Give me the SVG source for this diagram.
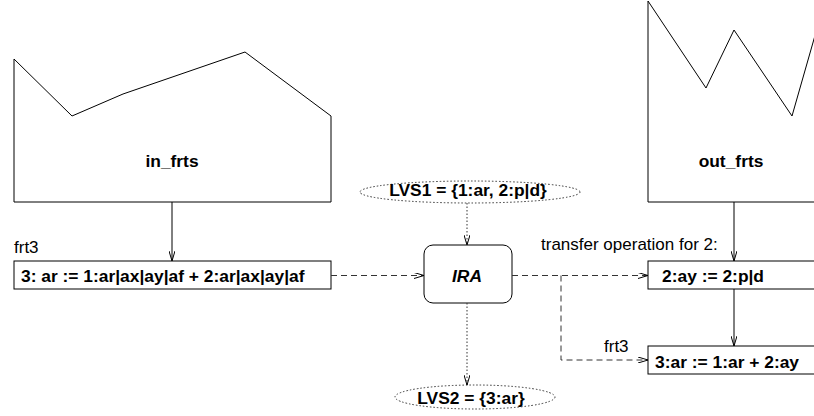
<svg xmlns="http://www.w3.org/2000/svg" width="814" height="416" viewBox="0 0 814 416">
<style>
.shape{fill:#fff;stroke:#000;stroke-width:1}
.line{fill:none;stroke:#000;stroke-width:1}
.dash{fill:none;stroke:#333;stroke-width:1;stroke-dasharray:6 4}
.dot{fill:none;stroke:#333;stroke-width:1;stroke-dasharray:1.5 2}
.b{font-family:"Liberation Sans",Arial,sans-serif;font-size:17.4px;font-weight:bold;fill:#000}
.n{font-family:"Liberation Sans",Arial,sans-serif;font-size:17px;fill:#000}
</style>
<defs>
<marker id="arr" viewBox="0 0 10 6" refX="10" refY="3" markerWidth="10" markerHeight="6" markerUnits="userSpaceOnUse" orient="auto">
<path d="M0,0 L10,3 L0,6" fill="none" stroke="#000" stroke-width="1"/>
</marker>
</defs>
<rect width="814" height="416" fill="#fff"/>
<g id="in_frts">
<polygon class="shape" points="14,59 72,116 123,94 245,52 331,116 331,202 14,202"/>
<text class="b" x="172" y="167" text-anchor="middle">in_frts</text>
</g>
<g id="out_frts">
<polygon class="shape" points="648,1 706,88 734,30 792,116 820,18 820,202 648,202"/>
<text class="b" x="731" y="167" text-anchor="middle">out_frts</text>
</g>
<g id="box1">
<text class="n" x="14" y="253">frt3</text>
<rect class="shape" x="14" y="261" width="317" height="28"/>
<text class="b" x="21" y="282">3: ar := 1:ar|ax|ay|af + 2:ar|ax|ay|af</text>
</g>
<g id="ira">
<rect class="shape" x="424" y="245" width="88" height="58" rx="9" ry="9"/>
<text class="b" x="467" y="282" text-anchor="middle" font-style="italic">IRA</text>
</g>
<g id="lvs1">
<ellipse class="dot" cx="470" cy="192" rx="110" ry="11"/>
<text class="b" x="468" y="196" text-anchor="middle">LVS1 = {1:ar, 2:p|d}</text>
</g>
<g id="lvs2">
<ellipse class="dot" cx="475" cy="397" rx="80" ry="12"/>
<text class="b" x="471" y="404" text-anchor="middle">LVS2 = {3:ar}</text>
</g>
<g id="box2">
<text class="n" x="541" y="250">transfer operation for 2:</text>
<rect class="shape" x="648" y="261" width="200" height="28"/>
<text class="b" x="662" y="282">2:ay := 2:p|d</text>
</g>
<g id="box3">
<text class="n" x="604" y="352">frt3</text>
<rect class="shape" x="648" y="346" width="200" height="28"/>
<text class="b" x="655" y="368">3:ar := 1:ar + 2:ay</text>
</g>
<g id="connectors">
<line class="line" x1="172" y1="202" x2="172" y2="261" marker-end="url(#arr)"/>
<line class="line" x1="734" y1="202" x2="734" y2="261" marker-end="url(#arr)"/>
<line class="line" x1="734" y1="289" x2="734" y2="346" marker-end="url(#arr)"/>
<line class="dash" x1="331" y1="275.5" x2="424" y2="275.5" marker-end="url(#arr)"/>
<line class="dash" x1="512" y1="275.5" x2="648" y2="275.5" marker-end="url(#arr)"/>
<polyline class="dash" points="561,275.5 561,360 648,360" marker-end="url(#arr)"/>
<line class="dot" x1="467" y1="203" x2="467" y2="245" marker-end="url(#arr)"/>
<line class="dot" x1="467" y1="303" x2="467" y2="385" marker-end="url(#arr)"/>
</g>
</svg>
